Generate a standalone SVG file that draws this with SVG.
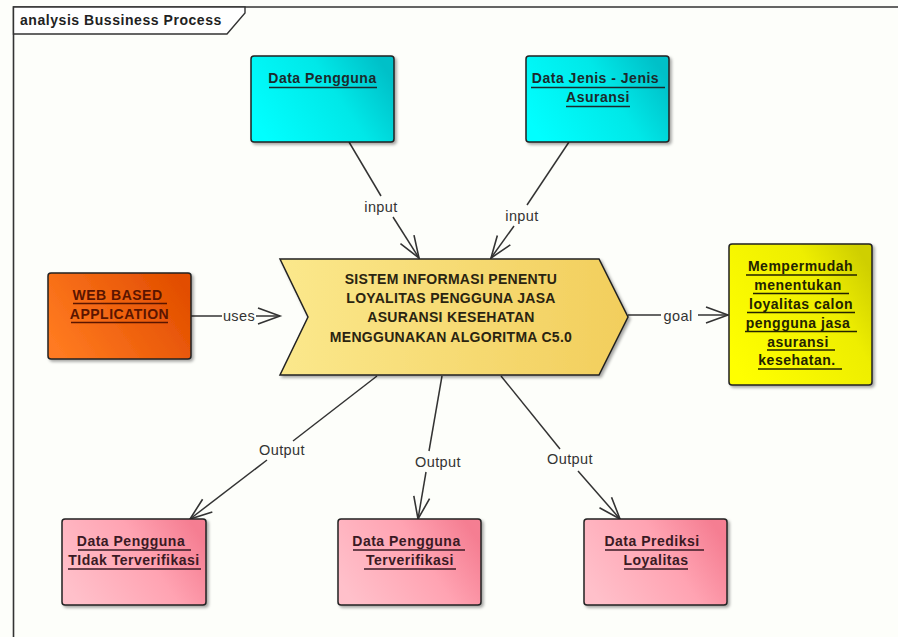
<svg xmlns="http://www.w3.org/2000/svg" width="898" height="637" viewBox="0 0 898 637">
<defs>
<linearGradient id="cy" x1="0" y1="0.7" x2="1" y2="0.3"><stop offset="0" stop-color="#00ffff"/><stop offset="0.6" stop-color="#00e8e8"/><stop offset="1" stop-color="#00c0c8"/></linearGradient>
<linearGradient id="or" x1="0" y1="0.7" x2="1" y2="0.3"><stop offset="0" stop-color="#ff7a20"/><stop offset="1" stop-color="#e24e00"/></linearGradient>
<linearGradient id="ye" x1="0" y1="0.8" x2="1" y2="0.2"><stop offset="0" stop-color="#ffff00"/><stop offset="0.7" stop-color="#eeee00"/><stop offset="1" stop-color="#cfcf00"/></linearGradient>
<linearGradient id="pk" x1="0" y1="0.7" x2="1" y2="0.3"><stop offset="0" stop-color="#ffc0ca"/><stop offset="0.6" stop-color="#ffa3b2"/><stop offset="1" stop-color="#f57e92"/></linearGradient>
<linearGradient id="go" x1="0" y1="0.5" x2="1" y2="0.5"><stop offset="0" stop-color="#fbe88c"/><stop offset="1" stop-color="#f2ce5c"/></linearGradient>
<filter id="sh" x="-10%" y="-10%" width="125%" height="125%"><feDropShadow dx="2" dy="2" stdDeviation="1.5" flood-color="#000" flood-opacity="0.35"/></filter>
<marker id="arr" markerUnits="userSpaceOnUse" markerWidth="28" markerHeight="22" refX="24" refY="11" orient="auto"><path d="M2 3 L24 11 L2 19" fill="none" stroke="#333" stroke-width="1.6"/></marker>
</defs>
<style>
text{font-family:"Liberation Sans",Arial,sans-serif;fill:#1a1a1a}
.n{font-size:14px;font-weight:bold;text-anchor:middle;letter-spacing:.5px;fill:#1c2a2c}
.u{fill:none;stroke:#1c2a2c;stroke-width:1.4}
.box{stroke:#222;stroke-width:1.5;filter:url(#sh)}
.l{font-size:14.5px;text-anchor:middle;fill:#333;letter-spacing:.4px}
.c{fill:none;stroke:#333;stroke-width:1.5}
.m{font-size:14px;font-weight:bold;text-anchor:middle;fill:#2a2410;letter-spacing:.3px}
.dr{fill:#5a1500}
.dy{fill:#232300}
.dp{fill:#3a1a24}
</style>
<rect width="898" height="637" fill="#fdfefa"/>
<g id="frame">
<path d="M898 7 H13.5 V637" fill="none" stroke="#333" stroke-width="1.6"/>
<path d="M13.5 7 H245 V13 L227 34 H13.5 Z" fill="#fff" stroke="#333" stroke-width="1.4"/>
<text x="20" y="25" style="font-size:14px;font-weight:bold;letter-spacing:.55px;fill:#222">analysis Bussiness Process</text>
</g>
<g id="connectors">
<path class="c" d="M349 142 L381 196"/>
<path class="c" d="M393 217 L419 258" marker-end="url(#arr)"/>
<path class="c" d="M569 142 L527 205"/>
<path class="c" d="M514 226 L491 258" marker-end="url(#arr)"/>
<path class="c" d="M191 316 H222"/>
<path class="c" d="M256 316 H280" marker-end="url(#arr)"/>
<path class="c" d="M628 315 H661"/>
<path class="c" d="M698 315 H728" marker-end="url(#arr)"/>
<path class="c" d="M377 376 L293 441"/>
<path class="c" d="M267 460 L190 519" marker-end="url(#arr)"/>
<path class="c" d="M442 376 L429 451"/>
<path class="c" d="M426 472 L418 519" marker-end="url(#arr)"/>
<path class="c" d="M501 376 L560 449"/>
<path class="c" d="M578 471 L620 519" marker-end="url(#arr)"/>
<text class="l" x="381" y="212">input</text>
<text class="l" x="522" y="221">input</text>
<text class="l" x="239" y="321">uses</text>
<text class="l" x="678" y="321">goal</text>
<text class="l" x="282" y="455">Output</text>
<text class="l" x="438" y="467">Output</text>
<text class="l" x="570" y="464">Output</text>
</g>
<g id="data-pengguna">
<rect class="box" x="251" y="56" width="143" height="86" rx="3" fill="url(#cy)"/>
<text class="n" x="322.5" y="83">Data Pengguna</text>
<path class="u" d="M269 87.5 H377"/>
</g>
<g id="data-jenis">
<rect class="box" x="526" y="56" width="143" height="86" rx="3" fill="url(#cy)"/>
<text class="n" x="595.5" y="83">Data Jenis - Jenis</text>
<text class="n" x="598" y="102">Asuransi</text>
<path class="u" d="M531 87.5 H665 M566 106.5 H630"/>
</g>
<g id="web-based">
<rect class="box" x="48" y="273" width="143" height="86" rx="3" fill="url(#or)"/>
<text class="n dr" x="117.5" y="300" style="fill:#5a1500">WEB BASED</text>
<text class="n dr" x="119.5" y="319" style="fill:#5a1500">APPLICATION</text>
<path class="u" style="stroke:#5a1500" d="M73 303.5 H167 M71 322.5 H168"/>
</g>
<g id="sistem">
<path class="box" d="M280 259 H599 L628 317 L599 375 H280 L308 317 Z" fill="url(#go)"/>
<text class="m" x="451" y="284">SISTEM INFORMASI PENENTU</text>
<text class="m" x="451" y="303">LOYALITAS PENGGUNA JASA</text>
<text class="m" x="451" y="322">ASURANSI KESEHATAN</text>
<text class="m" x="451" y="342">MENGGUNAKAN ALGORITMA C5.0</text>
</g>
<g id="goal">
<rect class="box" x="729" y="244" width="143" height="141" rx="3" fill="url(#ye)"/>
<text class="n" x="800.5" y="271" style="fill:#232300">Mempermudah</text>
<text class="n" x="798" y="290" style="fill:#232300">menentukan</text>
<text class="n" x="801" y="309" style="fill:#232300">loyalitas calon</text>
<text class="n" x="798" y="328" style="fill:#232300">pengguna jasa</text>
<text class="n" x="798" y="347" style="fill:#232300">asuransi</text>
<text class="n" x="797" y="365" style="fill:#232300">kesehatan.</text>
<path class="u" style="stroke:#232300" d="M746 275 H857 M753 293.5 H849 M747 312.5 H855 M745 331.5 H857 M767 350 H835 M758 369 H842"/>
</g>
<g id="tidak-terverifikasi">
<rect class="box" x="62" y="519" width="144" height="86" rx="3" fill="url(#pk)"/>
<text class="n" x="131" y="546" style="fill:#3a1a24">Data Pengguna</text>
<text class="n" x="134" y="565" style="fill:#3a1a24">TIdak Terverifikasi</text>
<path class="u" style="stroke:#3a1a24" d="M78 550 H191 M68 569 H201"/>
</g>
<g id="terverifikasi">
<rect class="box" x="338" y="519" width="143" height="86" rx="3" fill="url(#pk)"/>
<text class="n" x="406.5" y="546" style="fill:#3a1a24">Data Pengguna</text>
<text class="n" x="410" y="565" style="fill:#3a1a24">Terverifikasi</text>
<path class="u" style="stroke:#3a1a24" d="M353 550 H465 M364 569 H456"/>
</g>
<g id="prediksi">
<rect class="box" x="584" y="519" width="143" height="86" rx="3" fill="url(#pk)"/>
<text class="n" x="652" y="546" style="fill:#3a1a24">Data Prediksi</text>
<text class="n" x="656" y="565" style="fill:#3a1a24">Loyalitas</text>
<path class="u" style="stroke:#3a1a24" d="M605 550 H704 M624 569 H688"/>
</g>
</svg>
